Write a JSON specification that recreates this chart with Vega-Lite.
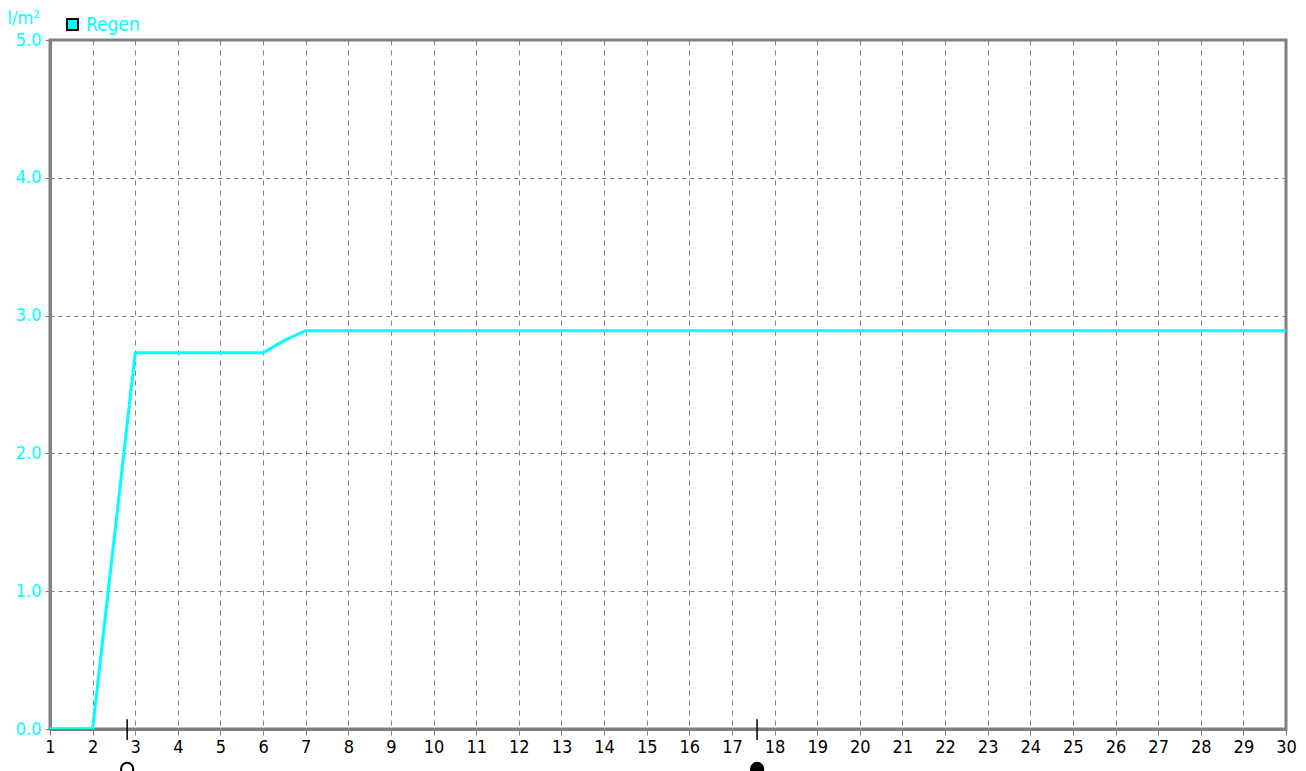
{
  "$schema": "https://vega.github.io/schema/vega-lite/v6.json",
  "autosize": "none",
  "width": 1236,
  "height": 689,
  "padding": {"left": 50, "top": 40, "right": 20, "bottom": 42},
  "background": "white",
  "config": {
    "font": "Liberation Sans Narrow, DejaVu Sans Condensed, Liberation Sans, sans-serif",
    "view": {"stroke": "#808080", "strokeWidth": 3}
  },
  "datasets": {
    "rain": [
      {"t": 1, "v": 0, "s": "Regen"},
      {"t": 2, "v": 0, "s": "Regen"},
      {"t": 3, "v": 2.73, "s": "Regen"},
      {"t": 6, "v": 2.73, "s": "Regen"},
      {"t": 6.5, "v": 2.82, "s": "Regen"},
      {"t": 7, "v": 2.89, "s": "Regen"},
      {"t": 30, "v": 2.89, "s": "Regen"}
    ],
    "marks": [
      {"t": 2.81, "kind": "rise"},
      {"t": 17.59, "kind": "set"}
    ]
  },
  "layer": [
    {
      "data": {"name": "rain"},
      "mark": {"type": "line", "strokeWidth": 3, "clip": true, "color": "#00FFFF"},
      "encoding": {
        "x": {
          "field": "t", "type": "quantitative",
          "scale": {"domain": [1, 30], "nice": false, "zero": false},
          "axis": {
            "title": null,
            "values": [1,2,3,4,5,6,7,8,9,10,11,12,13,14,15,16,17,18,19,20,21,22,23,24,25,26,27,28,29,30],
            "format": "d",
            "labelColor": "#000000",
            "labelFontSize": 18,
            "labelPadding": 3,
            "tickColor": "#808080",
            "tickSize": 6,
            "domainColor": "#808080",
            "domainWidth": 3,
            "grid": true,
            "gridDash": [5, 5],
            "gridColor": "#808080",
            "gridWidth": 1,
            "labelFlush": false
          }
        },
        "y": {
          "field": "v", "type": "quantitative",
          "scale": {"domain": [0, 5], "nice": false},
          "axis": {
            "title": "l/m²",
            "titleAngle": 0,
            "titleColor": "#00FFFF",
            "titleFontWeight": "normal",
            "titleFontSize": 18,
            "titleAlign": "left",
            "titleBaseline": "alphabetic",
            "titleX": -43,
            "titleY": -17,
            "values": [0, 1, 2, 3, 4, 5],
            "format": ".1f",
            "labelColor": "#00FFFF",
            "labelFontSize": 18,
            "labelPadding": 4,
            "tickColor": "#808080",
            "tickSize": 5,
            "domainColor": "#808080",
            "domainWidth": 3,
            "grid": true,
            "gridDash": [4, 4],
            "gridColor": "#808080",
            "gridWidth": 1
          }
        }
      }
    },
    {
      "data": {"name": "rain"},
      "transform": [{"filter": "datum.t > 100"}],
      "mark": {"type": "point", "shape": "square", "filled": true, "stroke": "#000000", "strokeWidth": 2, "opacity": 1},
      "encoding": {
        "x": {"field": "t", "type": "quantitative"},
        "y": {"field": "v", "type": "quantitative"},
        "fill": {
          "field": "s", "type": "nominal",
          "scale": {"domain": ["Regen"], "range": ["#00FFFF"]},
          "legend": {
            "title": null,
            "orient": "none",
            "legendX": 13,
            "legendY": -25,
            "symbolType": "square",
            "symbolSize": 120,
            "symbolStrokeColor": "#000000",
            "symbolStrokeWidth": 2,
            "labelColor": "#00FFFF",
            "labelFontSize": 19,
            "labelOffset": 4
          }
        }
      }
    },
    {
      "data": {"name": "marks"},
      "mark": {"type": "rule", "color": "#000000", "strokeWidth": 1.5, "clip": false},
      "encoding": {
        "x": {"field": "t", "type": "quantitative"},
        "y": {"datum": 0.07},
        "y2": {"datum": -0.08}
      }
    },
    {
      "data": {"name": "marks"},
      "transform": [{"filter": "datum.kind == 'rise'"}],
      "mark": {"type": "point", "shape": "circle", "size": 150, "strokeWidth": 2, "clip": false, "opacity": 1, "fill": "#ffffff", "stroke": "#000000"},
      "encoding": {
        "x": {"field": "t", "type": "quantitative"},
        "y": {"datum": -0.29}
      }
    },
    {
      "data": {"name": "marks"},
      "transform": [{"filter": "datum.kind == 'set'"}],
      "mark": {"type": "point", "shape": "circle", "size": 150, "strokeWidth": 2, "clip": false, "opacity": 1, "fill": "#000000", "stroke": "#000000"},
      "encoding": {
        "x": {"field": "t", "type": "quantitative"},
        "y": {"datum": -0.29}
      }
    }
  ]
}
